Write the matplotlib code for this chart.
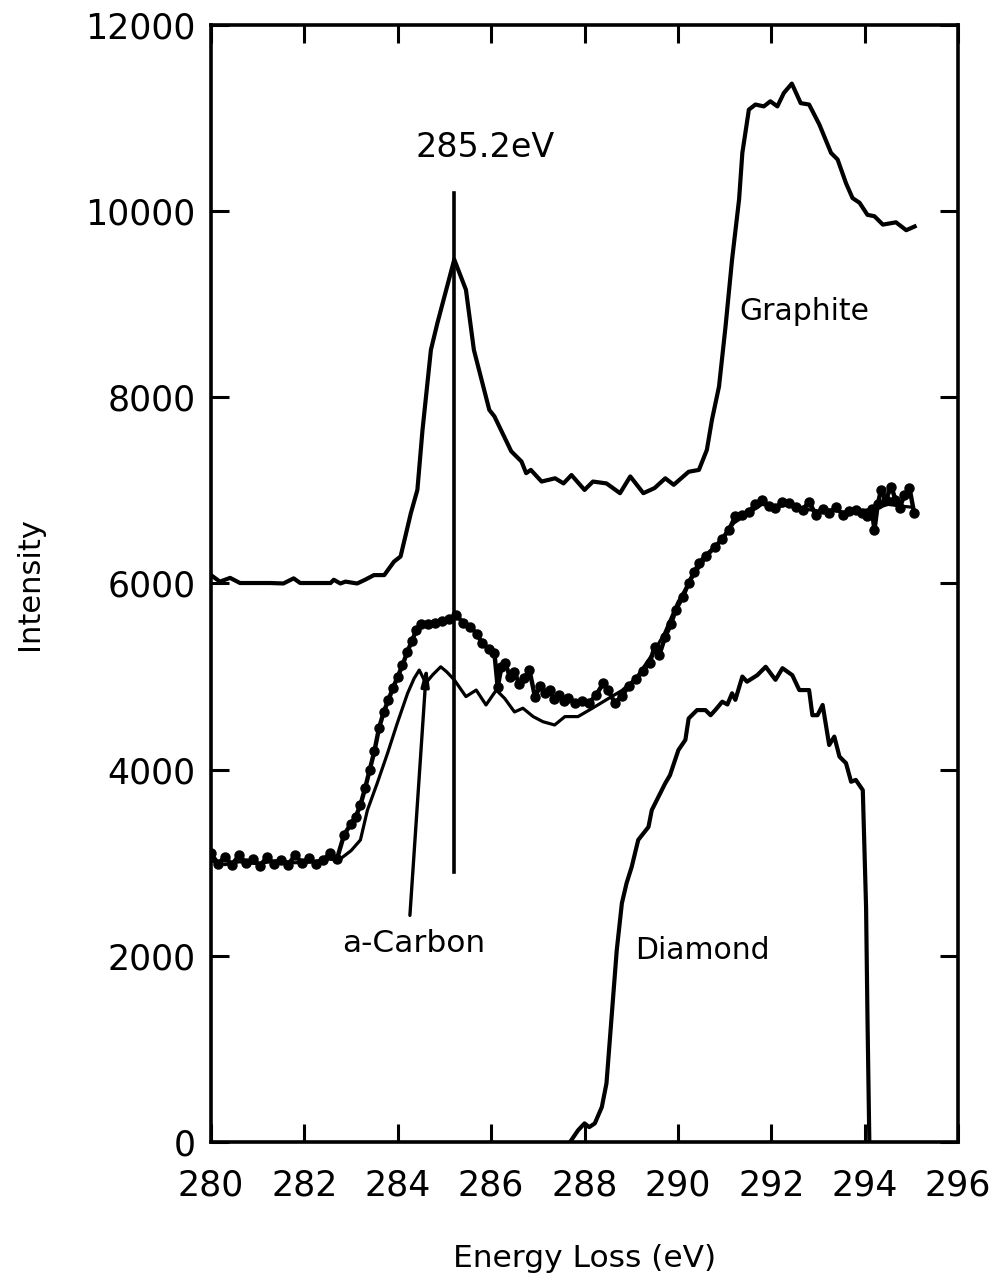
import matplotlib
matplotlib.use("Agg")
import matplotlib.pyplot as plt

# ---------------- data ----------------
graphite_x = [280.04, 280.19, 280.41, 280.62, 281.0, 281.27, 281.55, 281.77, 281.91, 282.3, 282.56, 282.63,
              282.77, 282.88, 283.13, 283.3, 283.49, 283.71, 283.92, 284.06, 284.28, 284.42, 284.53, 284.71,
              284.85, 285.21, 285.46, 285.63, 285.96, 286.07, 286.43, 286.65, 286.75, 286.85, 287.08, 287.37,
              287.55, 287.72, 288.0, 288.18, 288.47, 288.76, 288.98, 289.26, 289.5, 289.73, 289.91, 290.23,
              290.45, 290.62, 290.73, 290.88, 291.02, 291.16, 291.31, 291.38, 291.52, 291.66, 291.84, 291.98,
              292.13, 292.27, 292.44, 292.63, 292.81, 293.03, 293.28, 293.42, 293.6, 293.74, 293.89, 294.06,
              294.21, 294.39, 294.67, 294.89, 295.07]
graphite_y = [6075, 6020, 6060, 6005, 6005, 6005, 6000, 6055, 6005, 6005, 6005, 6040,
              6000, 6020, 6000, 6040, 6090, 6090, 6235, 6290, 6755, 7005, 7650, 8510,
              8800, 9480, 9155, 8510, 7865, 7795, 7420, 7310, 7185, 7220, 7095, 7130,
              7075, 7165, 7005, 7095, 7075, 6970, 7150, 6970, 7025, 7130, 7060, 7200,
              7220, 7435, 7760, 8115, 8760, 9480, 10125, 10625, 11090, 11145, 11125, 11180,
              11125, 11270, 11370, 11160, 11145, 10930, 10625, 10555, 10300, 10140, 10090, 9960,
              9945, 9855, 9880, 9795, 9835]

acarbon_x = [280.0, 280.3, 280.6, 281.0, 281.4, 281.8, 282.2, 282.5, 282.74, 283.0, 283.2, 283.35,
             283.56, 283.78, 283.99, 284.21, 284.35, 284.46, 284.6, 284.75, 284.92, 285.05, 285.21, 285.46,
             285.68, 285.89, 286.11, 286.29, 286.5, 286.68, 286.9, 287.11, 287.36, 287.58, 287.86, 288.1,
             288.3, 288.58, 288.8, 289.1, 289.4, 289.7, 290.0, 290.3, 290.6, 290.9, 291.2, 291.5,
             291.8, 292.1, 292.4, 292.7, 293.0, 293.3, 293.6, 293.9, 294.2, 294.5, 294.8, 295.0]
acarbon_y = [3020, 2980, 3010, 2990, 3020, 3000, 3010, 3040, 3030, 3130, 3245, 3565,
             3855, 4175, 4500, 4820, 4980, 5070, 4930, 5020, 5105, 5050, 4965, 4785,
             4855, 4695, 4855, 4765, 4620, 4660, 4570, 4515, 4480, 4570, 4570, 4640,
             4700, 4785, 4850, 4980, 5200, 5450, 5800, 6060, 6280, 6450, 6650, 6750,
             6850, 6820, 6850, 6800, 6780, 6790, 6760, 6780, 6800, 6850, 6830, 6820]

dotted_x = [280.0, 280.15, 280.3, 280.45, 280.6, 280.75, 280.9, 281.05, 281.2, 281.35, 281.5, 281.65,
            281.8, 281.95, 282.1, 282.25, 282.4, 282.55, 282.7, 282.85, 283.0, 283.1, 283.2, 283.3,
            283.4, 283.5, 283.6, 283.7, 283.8, 283.9, 284.0, 284.1, 284.2, 284.3, 284.4, 284.5,
            284.65, 284.8, 284.95, 285.1, 285.25, 285.4, 285.55, 285.7, 285.8, 285.95, 286.07, 286.14,
            286.22, 286.3, 286.4, 286.5, 286.6, 286.7, 286.82, 286.94, 287.05, 287.15, 287.25, 287.35,
            287.45, 287.55, 287.65, 287.8, 287.95, 288.1, 288.25, 288.4, 288.5, 288.65, 288.8, 288.95,
            289.1, 289.25, 289.4, 289.5, 289.6, 289.73, 289.85, 289.95, 290.1, 290.23, 290.35, 290.45,
            290.6, 290.8, 290.95, 291.09, 291.23, 291.38, 291.52, 291.66, 291.81, 291.95, 292.09, 292.24,
            292.38, 292.52, 292.67, 292.81, 292.95, 293.1, 293.24, 293.38, 293.53, 293.67, 293.81, 293.95,
            294.05, 294.15, 294.21, 294.28, 294.35, 294.45, 294.57, 294.66, 294.75, 294.85, 294.96, 295.06]
dotted_y = [3100, 2990, 3060, 2980, 3080, 3000, 3040, 2970, 3060, 2990, 3030, 2980,
            3080, 3000, 3050, 2990, 3030, 3100, 3045, 3300, 3420, 3495, 3620, 3800,
            4000, 4200, 4450, 4620, 4750, 4880, 5000, 5120, 5260, 5380, 5500, 5560,
            5570, 5580, 5600, 5620, 5660, 5580, 5530, 5460, 5360, 5300, 5250, 4890,
            5100, 5150, 5000, 5050, 4920, 4980, 5070, 4780, 4900, 4820, 4860, 4760,
            4800, 4740, 4770, 4715, 4740, 4720, 4800, 4930, 4860, 4715, 4790, 4900,
            4970, 5060, 5150, 5320, 5230, 5430, 5560, 5715, 5850, 6005, 6120, 6220,
            6300, 6395, 6480, 6575, 6720, 6740, 6770, 6850, 6900, 6830, 6810, 6880,
            6865, 6820, 6790, 6880, 6740, 6800, 6755, 6820, 6740, 6780, 6790, 6760,
            6720, 6800, 6575, 6850, 7005, 6900, 7040, 6900, 6810, 6950, 7025, 6755]

diamond_x = [287.69, 287.86, 288.0, 288.1, 288.22, 288.37, 288.47, 288.58, 288.69, 288.8, 288.9, 289.01,
             289.15, 289.37, 289.44, 289.73, 289.83, 290.01, 290.16, 290.23, 290.41, 290.59, 290.7, 290.8,
             290.95, 291.06, 291.16, 291.23, 291.38, 291.48, 291.7, 291.88, 292.09, 292.24, 292.45, 292.6,
             292.81, 292.88, 292.99, 293.1, 293.24, 293.35, 293.46, 293.6, 293.71, 293.81, 293.96, 294.03,
             294.06, 294.1]
diamond_y = [0, 125, 200, 160, 200, 375, 630, 1345, 2060, 2565, 2780, 2955,
             3245, 3385, 3565, 3855, 3940, 4210, 4320, 4550, 4640, 4640, 4585, 4640,
             4730, 4700, 4820, 4750, 5000, 4945, 5015, 5105, 4965, 5090, 5015, 4855,
             4855, 4585, 4585, 4695, 4265, 4355, 4140, 4070, 3870, 3890, 3780, 2525,
             1345, 0]

x_ticks = [280, 282, 284, 286, 288, 290, 292, 294, 296]
y_ticks = [0, 2000, 4000, 6000, 8000, 10000, 12000]
peak_energy = 285.2
peak_line = [2900, 10200]

# ---------------- figure ----------------
fig = plt.figure(figsize=(9.93, 12.79), dpi=100)
ax = fig.add_axes([0.2125, 0.1071, 0.7523, 0.8734])

ax.plot(graphite_x, graphite_y, color="black", lw=3.0, solid_joinstyle="round")
ax.plot(acarbon_x, acarbon_y, color="black", lw=2.3, solid_joinstyle="round")
ax.plot(dotted_x, dotted_y, color="black", lw=3.2, marker="o", ms=6.5,
        solid_joinstyle="round")
ax.plot(diamond_x, diamond_y, color="black", lw=3.0, solid_joinstyle="round")

ax.plot([peak_energy, peak_energy], peak_line, color="black", lw=2.6)
ax.text(284.39, 10682, "285.2eV", fontsize=24, ha="left", va="center")

ax.text(292.71, 8920, "Graphite", fontsize=21.5, ha="center", va="center")
ax.text(290.52, 2060, "Diamond", fontsize=21.5, ha="center", va="center")
ax.text(284.34, 2135, "a-Carbon", fontsize=22.5, ha="center", va="center")
ax.annotate("", xy=(284.62, 5125), xytext=(284.26, 2435),
            arrowprops=dict(arrowstyle="-|>,head_length=1.1,head_width=0.22",
                            color="black", lw=2.4, shrinkA=0, shrinkB=0))

ax.set_xlim(280, 296)
ax.set_ylim(0, 12000)
ax.set_xticks(x_ticks)
ax.set_yticks(y_ticks)
ax.tick_params(direction="in", length=13, width=2.2, labelsize=25,
               top=True, right=True, pad=11)
ax.tick_params(axis="x", pad=19)
for s in ax.spines.values():
    s.set_linewidth(2.6)

ax.set_xlabel("Energy Loss (eV)", fontsize=22.5, labelpad=30)
ax.set_ylabel("Intensity", fontsize=22, labelpad=30)

fig.savefig("out.png", dpi=100)
